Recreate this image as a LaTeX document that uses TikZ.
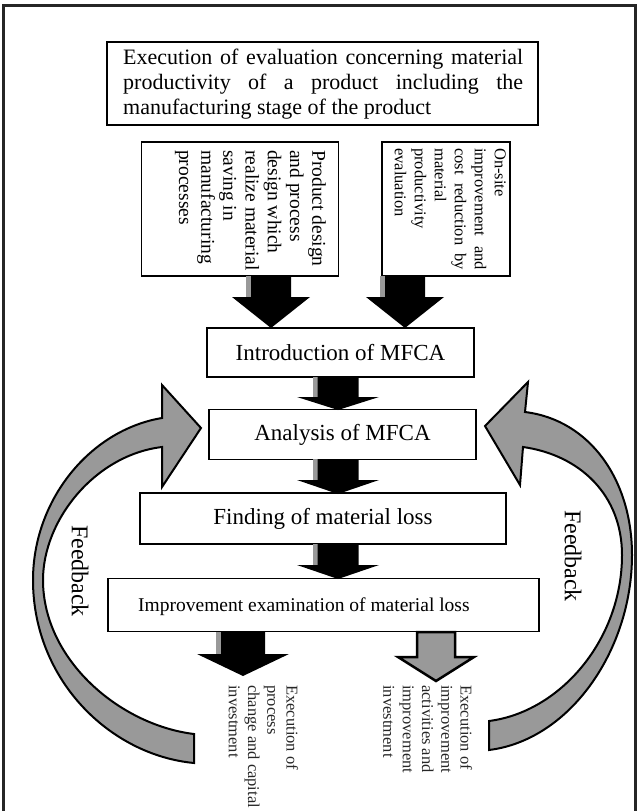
\documentclass[tikz,border=0pt]{standalone}
\usepackage{fontspec}
\setmainfont{Liberation Serif}
\newcommand\dnarrow[7]{%
  \path[#1] ({#2-#6},#3) -- ({#2+#6},#3) -- ({#2+#6},#4) -- ({#2+#7},#4) -- (#2,#5) -- ({#2-#7},#4) -- ({#2-#6},#4) -- cycle;}
\newcommand\shaftshadow[4]{%
  \fill[black!40] ({#1-#4-5},#2) rectangle ({#1-#4},#3);}
\begin{document}
\begin{tikzpicture}[x=1pt,y=-1pt,
  box/.style={draw=black, line width=1.6pt, fill=white, inner sep=0pt},
  blk/.style={fill=black},
  grayarrow/.style={fill=black!40, draw=black, line width=2.5pt, line join=miter},
  fb/.style={fill=black!40, draw=black, line width=2pt, line join=miter},
  vtxt/.style={rotate=-90, anchor=north west, inner sep=0pt, align=left},
  ctxt/.style={inner sep=0pt, font=\fontsize{23}{23}\selectfont},
]
\useasboundingbox (0,0) rectangle (641,811);
\fill[white] (0,0) rectangle (641,811);
% frame
\draw[line width=3pt, black!85] (3,815) -- (3,5) -- (635,5) -- (635,815);

% top box
\node[box, line width=2pt, minimum width=431pt, minimum height=83pt] (top) at (322.5,83.5) {};
\node[anchor=west, inner sep=0pt, align=left, font=\fontsize{22}{25}\selectfont] (toptxt) at (123,84)
  {\makebox[400pt][s]{Execution of evaluation concerning material}\\
   \makebox[400pt][s]{productivity of a product including the}\\
   manufacturing stage of the product};

% box A
\node[box, minimum width=197pt, minimum height=134pt] (pa) at (240,209) {};
\node[vtxt, font=\fontsize{19.5}{22.2}\selectfont] (patxt) at (326,150)
  {Product design\\and process\\design which\\realize material\\saving in\\manufacturing\\processes};

% box B
\node[box, minimum width=128pt, minimum height=134pt] (pb) at (446,209) {};
\node[vtxt, font=\fontsize{16.5}{20}\selectfont] (pbtxt) at (506,148)
  {On-site\\\makebox[122pt][s]{improvement and}\\\makebox[122pt][s]{cost reduction by}\\material\\productivity\\evaluation};

% arrows from A and B
\shaftshadow{271}{276}{297}{20}
\dnarrow{blk}{271}{276}{297}{328}{20}{39}
\shaftshadow{405}{276}{297}{20}
\dnarrow{blk}{405}{276}{297}{328}{20}{39}

% central boxes
\node[box, minimum width=267pt, minimum height=49pt] (intro) at (340.5,352.5) {};
\node[ctxt] (introtxt) at (intro.center) {Introduction of MFCA};
\node[box, minimum width=267pt, minimum height=50pt] (ana) at (342.5,434.5) {};
\node[ctxt] (anatxt) at (ana.center) {Analysis of MFCA};
\node[box, minimum width=366pt, minimum height=51pt] (find) at (323,518.5) {};
\node[ctxt] (findtxt) at (find.center) {Finding of material loss};
\node[box, minimum width=431pt, minimum height=53pt] (imp) at (323.5,605) {};
\node[anchor=west, inner sep=0pt, font=\fontsize{19.5}{22}\selectfont] (imptxt) at (138,607) {Improvement examination of material loss};

% central arrows
\shaftshadow{338}{377}{397}{20.5}
\dnarrow{blk}{338}{377}{397}{410}{20.5}{41}
\shaftshadow{338}{459}{480}{20.5}
\dnarrow{blk}{338}{459}{480}{494}{20.5}{41}
\shaftshadow{338}{544}{565}{20.5}
\dnarrow{blk}{338}{544}{565}{579}{20.5}{41}

% bottom arrows
\shaftshadow{243}{632}{654}{22}
\dnarrow{blk}{243}{632}{654}{676}{22}{46}
\dnarrow{grayarrow}{436}{632}{657}{681}{19}{38}

% bottom texts
\node[vtxt, text=black!85, font=\fontsize{16.5}{19.3}\selectfont] (botl) at (298.5,685)
  {Execution of\\process\\change and capital\\investment};
\node[vtxt, text=black!85, font=\fontsize{16.5}{19.3}\selectfont] (botr) at (472.5,685)
  {Execution of\\improvement\\activities and\\improvement\\investment};

% feedback arrows
\path[fb] (194,734) .. controls (120,725) and (43,660) .. (43,580)
  .. controls (43,520) and (95,455) .. (162,447) -- (162,487) -- (201,428) -- (162,385) -- (162,418)
  .. controls (90,430) and (33,500) .. (33,580)
  .. controls (33,680) and (110,755) .. (194,763) -- cycle;
\path[fb] (489,721) .. controls (560,712) and (622,640) .. (622,555)
  .. controls (622,495) and (580,455) .. (523,447) -- (520,485) -- (485,426) -- (528,382) -- (525,412)
  .. controls (590,420) and (632,480) .. (632,555)
  .. controls (632,650) and (570,740) .. (489,750) -- cycle;

\node[rotate=-90, inner sep=0pt, font=\fontsize{24}{24}\selectfont] (fbl) at (80,571) {Feedback};
\node[rotate=-90, inner sep=0pt, font=\fontsize{24}{24}\selectfont] (fbr) at (573,556) {Feedback};
\end{tikzpicture}
\end{document}
